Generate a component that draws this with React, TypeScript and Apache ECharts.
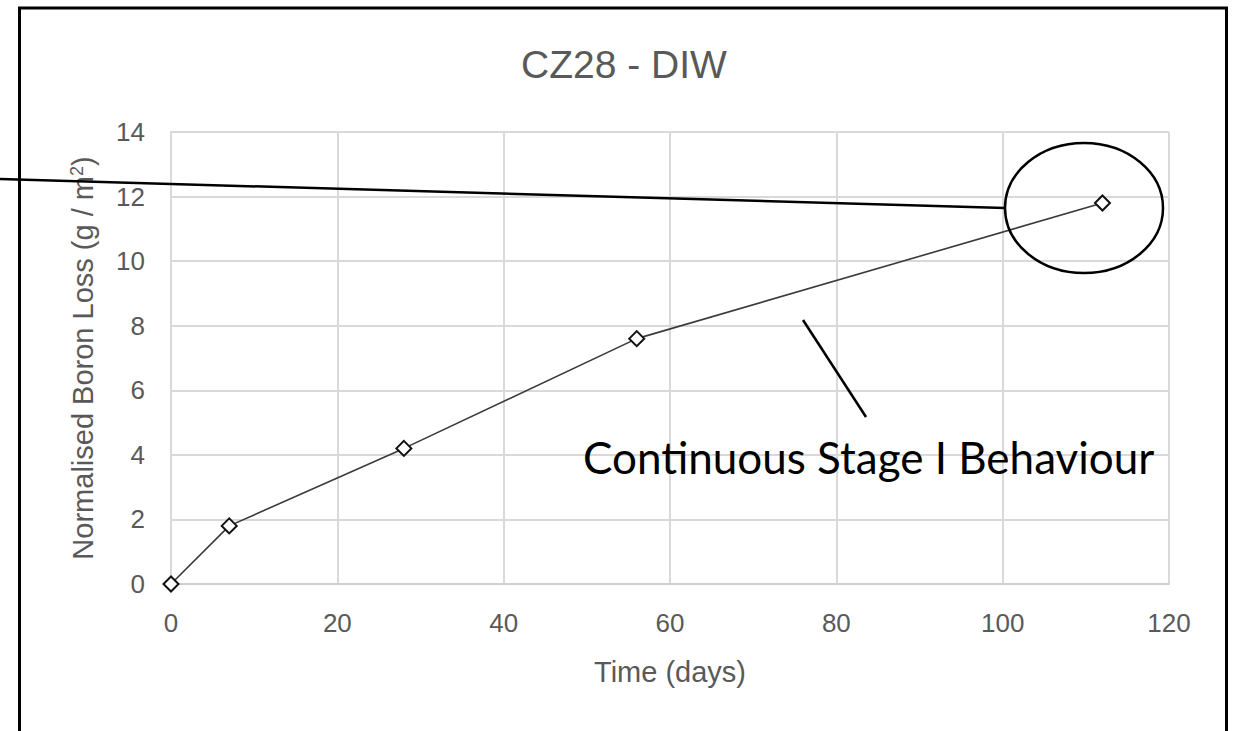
import React, { useEffect, useRef } from "react";
import * as echarts from "echarts";

const title = "CZ28 - DIW";
const xName = "Time (days)";
const yNameMain = "Normalised Boron Loss (g / m";
const yNameSup = "2";
const days = [0, 7, 28, 56, 112];
const boronLoss = [0, 1.8, 4.2, 7.6, 11.8];
const annotationText = "Continuous Stage I Behaviour";

const GRAY = "#595959";
const FONT = "Liberation Sans";

export default function App() {
  const ref = useRef<HTMLDivElement>(null);
  useEffect(() => {
    if (!ref.current) return;
    const chart = echarts.init(ref.current, undefined, { renderer: "svg" });
    chart.setOption({
      animation: false,
      backgroundColor: "#ffffff",
      title: {
        text: title,
        left: 619,
        top: 40,
        textAlign: "center",
        textStyle: { color: GRAY, fontSize: 39, fontWeight: "normal", fontFamily: FONT },
      },
      grid: { left: 171, right: 66, top: 132, bottom: 147 },
      xAxis: {
        type: "value",
        min: 0,
        max: 120,
        interval: 20,
        name: xName,
        nameLocation: "middle",
        nameGap: 73,
        nameTextStyle: { color: GRAY, fontSize: 29, fontFamily: FONT },
        axisLine: { show: true, lineStyle: { color: "#cfcfcf", width: 2 } },
        axisTick: { show: false },
        axisLabel: { color: GRAY, fontSize: 26, fontFamily: FONT, margin: 26 },
        splitLine: { show: true, lineStyle: { color: "#d9d9d9", width: 2 } },
      },
      yAxis: {
        type: "value",
        min: 0,
        max: 14,
        interval: 2,
        name: `{m|${yNameMain}}{s|${yNameSup}}{m|)}`,
        nameLocation: "middle",
        nameGap: 73,
        nameTextStyle: {
          color: GRAY,
          fontSize: 29,
          fontFamily: FONT,
          rich: {
            m: { color: GRAY, fontSize: 29, fontFamily: FONT },
            s: { color: GRAY, fontSize: 18, fontFamily: FONT, padding: [0, 0, 12, 0] },
          },
        },
        axisLine: { show: true, lineStyle: { color: "#d9d9d9", width: 2 } },
        axisTick: { show: false },
        axisLabel: { color: GRAY, fontSize: 26, fontFamily: FONT, margin: 26 },
        splitLine: { show: true, lineStyle: { color: "#d9d9d9", width: 2 } },
      },
      series: [
        {
          type: "line",
          data: days.map((d, i) => [d, boronLoss[i]]),
          symbol: "diamond",
          symbolSize: 15,
          showAllSymbol: true,
          clip: false,
          lineStyle: { color: "#3a3a3a", width: 1.6 },
          itemStyle: { color: "#ffffff", borderColor: "#111111", borderWidth: 2 },
          z: 5,
        },
      ],
      graphic: [
        {
          type: "rect",
          shape: { x: 19.5, y: 8, width: 1207, height: 780 },
          style: { fill: "none", stroke: "#000000", lineWidth: 3 },
          silent: true,
          z: 10,
        },
        {
          type: "line",
          shape: { x1: 0, y1: 179, x2: 1005, y2: 208 },
          style: { stroke: "#000000", lineWidth: 2.5 },
          silent: true,
          z: 10,
        },
        {
          type: "ellipse",
          shape: { cx: 1084, cy: 208, rx: 79, ry: 65 },
          style: { fill: "none", stroke: "#000000", lineWidth: 2.5 },
          silent: true,
          z: 10,
        },
        {
          type: "line",
          shape: { x1: 803, y1: 320, x2: 866, y2: 417 },
          style: { stroke: "#000000", lineWidth: 2.5 },
          silent: true,
          z: 10,
        },
        {
          type: "text",
          x: 583,
          y: 457,
          style: {
            text: annotationText,
            fill: "#000000",
            fontSize: 44,
            fontFamily: "Lato",
            align: "left",
            verticalAlign: "middle",
          },
          silent: true,
          z: 10,
        },
      ],
    });
    return () => chart.dispose();
  }, []);
  return (
    <div
      ref={ref}
      style={{ position: "fixed", left: 0, top: 0, width: 1235, height: 731, background: "#fff" }}
    />
  );
}
